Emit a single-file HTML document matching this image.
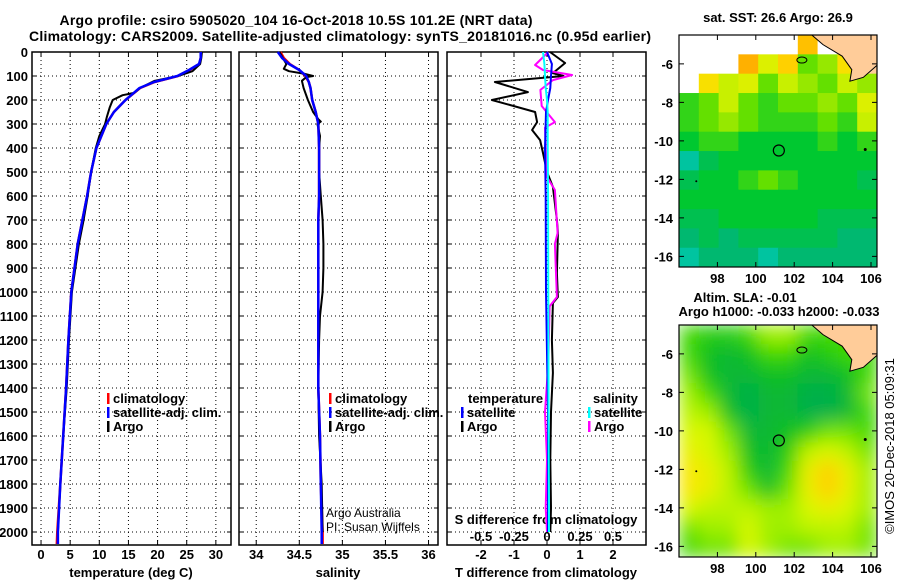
<!DOCTYPE html>
<html><head><meta charset="utf-8"><style>
body{margin:0;background:#fff}
svg{display:block;font-family:"Liberation Sans",sans-serif;font-weight:bold}
</style></head><body>
<svg id="s" width="900" height="580" viewBox="0 0 900 580" xmlns="http://www.w3.org/2000/svg">
<defs>
<clipPath id="c1"><rect x="679" y="35" width="198" height="232"/></clipPath>
<clipPath id="c2"><rect x="679" y="325" width="198" height="232"/></clipPath>
<filter id="bl" x="-5%" y="-5%" width="110%" height="110%"><feGaussianBlur stdDeviation="9"/></filter>
</defs>
<text x="296" y="25" font-size="14" text-anchor="middle" textLength="473">Argo profile: csiro 5905020_104 16-Oct-2018 10.5S 101.2E (NRT data)</text>
<text x="340" y="41" font-size="14" text-anchor="middle" textLength="622">Climatology: CARS2009. Satellite-adjusted climatology: synTS_20181016.nc (0.95d earlier)</text>
<g id="g"></g>
</svg>
<script>
const depths=[0,25,50,75,100,125,150,200,250,300,400,500,600,700,800,1000,1200,1400,1600,1800,2000,2050];
const tClim=[27.5,27.4,27.2,25.5,23.5,19.5,17,14.5,12.5,11.2,9.5,8.6,7.9,7.1,6.3,5.2,4.7,4.3,3.8,3.3,2.8,2.7];
const tSat=[27.4,27.4,27.1,25.4,23.4,19.4,16.9,14.5,12.5,11.2,9.5,8.6,7.9,7.1,6.3,5.2,4.7,4.3,3.8,3.3,2.9,2.9];
const argoDepths=[0,25,50,80,100,120,150,170,180,200,230,270,300,350,400,500,600,700,800,1000,1200,1400,1600,1800,2000,2050];
const tArgo=[27.6,27.5,27.3,26,23.5,19.5,17,16,14,12.3,11.8,11.3,11,10,9.4,8.6,8.0,7.3,6.5,5.3,4.8,4.4,3.8,3.3,2.9,2.9];
const sClim=[34.28,34.32,34.39,34.5,34.57,34.61,34.63,34.65,34.69,34.72,34.73,34.73,34.73,34.72,34.72,34.72,34.72,34.72,34.74,34.75,34.77,34.77];
const sSat=[34.25,34.3,34.38,34.5,34.58,34.61,34.63,34.65,34.69,34.72,34.73,34.73,34.73,34.72,34.72,34.72,34.72,34.72,34.74,34.75,34.76,34.76];
const sArgoDepths=[0,20,50,70,80,90,100,105,120,150,200,250,280,290,300,350,400,500,600,700,800,900,1000,1100,1200,1400,1600,1800,2000];
const sArgo=[34.27,34.3,34.35,34.32,34.38,34.55,34.66,34.58,34.53,34.55,34.6,34.66,34.72,34.75,34.71,34.74,34.73,34.73,34.75,34.77,34.78,34.78,34.77,34.74,34.73,34.72,34.73,34.76,34.77];
const dArgoDepths=[0,46,88,100,125,167,200,250,292,325,367,421,500,562,700,754,921,1021,1046,1200,1337,1500,1700,1900,2000];
const dTArgo=[0.09,0.55,0.18,0.5,-1.58,-0.58,-1.67,-0.36,-0.3,-0.45,-0.21,-0.12,0,0.18,0.3,0.33,0.3,0.33,0.18,0.15,0.18,0.12,0.1,0.12,0.1];
const dSArgoDepths=[0,54,75,96,117,158,225,292,315,521,575,754,800,1021,1060,1300,1500,1700,1900,2000];
const dSArgo=[0.01,-0.09,-0.03,0.19,0.045,-0.05,-0.04,0.06,-0.015,0,0.06,0.08,0.06,0.075,0.02,0.01,-0.015,0,-0.01,0];
const dSatDepths=[0,50,100,150,200,250,400,600,1000,1500,2000];
const dTSat=[0,0.15,0.12,0.1,0.03,-0.03,-0.06,-0.04,-0.03,0.03,0.03];
const dSSat=[-0.03,-0.02,-0.015,-0.01,0,0.005,0.005,0.008,0.01,0.012,0.015];
const sstGrid=[
[-1,-1,-1,-1,-1,-1,27.5,-1,99,99],
[-1,-1,-1,27.6,27.1,27.4,26.8,26.9,27.3,99],
[-1,27.3,27.0,27.1,26.8,27.0,26.9,26.8,27.0,26.9],
[26.7,26.8,27.0,26.8,26.7,26.8,26.8,26.9,26.8,27.1],
[26.7,26.8,26.9,26.8,26.7,26.7,26.7,26.8,26.7,27.0],
[26.6,26.7,26.7,26.6,26.6,26.6,26.6,26.7,26.6,26.7],
[26.3,26.5,26.6,26.6,26.6,26.6,26.6,26.6,26.6,26.6],
[26.5,26.6,26.6,26.7,26.8,26.7,26.6,26.6,26.6,26.5],
[26.6,26.6,26.6,26.6,26.6,26.6,26.6,26.6,26.6,26.6],
[26.5,26.5,26.6,26.6,26.6,26.6,26.6,26.5,26.5,26.5],
[26.4,26.5,26.4,26.5,26.5,26.5,26.5,26.5,26.4,26.4],
[26.3,26.4,26.4,26.4,26.3,26.4,26.4,26.4,26.4,26.4]];
const slaGrid=[
[0.0,-0.01,-0.01,0.0,0.02,0.02,0.0,0.0,0.0,0.0],
[0.0,-0.02,-0.03,-0.02,0.0,0.0,-0.02,-0.01,0.0,0.0],
[0.01,-0.02,-0.03,-0.03,-0.02,-0.02,-0.03,-0.03,-0.02,0.0],
[0.02,0.0,-0.03,-0.04,-0.03,-0.03,-0.04,-0.04,-0.03,0.01],
[0.03,0.02,-0.02,-0.04,-0.03,-0.03,-0.04,-0.04,-0.03,0.0],
[0.04,0.04,0.01,-0.03,-0.03,-0.02,-0.01,0.01,0.01,0.0],
[0.05,0.04,0.02,-0.02,-0.03,-0.01,0.03,0.04,0.03,0.01],
[0.06,0.05,0.03,-0.01,-0.03,0.0,0.05,0.07,0.05,0.02],
[0.06,0.05,0.03,0.01,-0.02,0.01,0.05,0.07,0.05,0.02],
[0.04,0.03,0.03,0.03,0.02,0.02,0.04,0.05,0.04,0.02],
[0.01,0.02,0.02,0.04,0.02,0.02,0.03,0.03,0.03,0.01],
[0.0,0.01,0.01,0.04,0.02,0.01,0.01,0.02,0.02,0.01]];
const tTicks=[0,5,10,15,20,25,30];
const sTicks=[34,34.5,35,35.5,36];
const sTickLabels=["34","34.5","35","35.5","36"];
const dTTicks=[-2,-1,0,1,2];
const dSTicks=[-0.5,-0.25,0,0.25,0.5];
const dSTickLabels=["-0.5","-0.25","0","0.25","0.5"];
const depthTicks=[0,100,200,300,400,500,600,700,800,900,1000,1100,1200,1300,1400,1500,1600,1700,1800,1900,2000];
const lonTicks=[98,100,102,104,106];
const latTicks=[-6,-8,-10,-12,-14,-16];

const NS='http://www.w3.org/2000/svg';
const G=document.getElementById('g');
function el(tag,attrs,parent){const e=document.createElementNS(NS,tag);for(const k in attrs)e.setAttribute(k,attrs[k]);(parent||G).appendChild(e);return e;}
function txt(x,y,s,size,anchor,parent,weight){const e=el('text',{x:x,y:y,'font-size':size,'text-anchor':anchor||'start'},parent);if(weight)e.setAttribute('font-weight',weight);e.textContent=s;return e;}
const TOP=52,BOT=545;
const yD=d=>TOP+d*0.24;
const panels=[
 {x0:32,x1:231,lo:-1.55,hi:32.6,name:'temperature-panel'},
 {x0:239,x1:438,lo:33.8,hi:36.11,name:'salinity-panel'},
 {x0:447,x1:646,lo:-3.03,hi:3.0,name:'difference-panel'}];
function sx(p,v){return p.x0+(v-p.lo)/(p.hi-p.lo)*(p.x1-p.x0);}
const sS=v=>547+v*132;
function line(pts,color,w,name,parent){const e=el('polyline',{points:pts.map(p=>p[0].toFixed(1)+','+p[1].toFixed(1)).join(' '),fill:'none',stroke:color,'stroke-width':w,'stroke-linejoin':'round'},parent);

return e;}

panels.forEach((p,i)=>{
 const g=el('g',{});
 
 
 const vt=i==0?tTicks:i==1?sTicks:dTTicks;
 depthTicks.forEach(d=>{el('line',{x1:p.x0,x2:p.x1,y1:yD(d),y2:yD(d),stroke:'#000','stroke-width':1,'stroke-dasharray':'1,3'},g);
   el('line',{x1:p.x0,x2:p.x0+4,y1:yD(d),y2:yD(d),stroke:'#000'},g);el('line',{x1:p.x1-4,x2:p.x1,y1:yD(d),y2:yD(d),stroke:'#000'},g);});
 vt.forEach(v=>{const x=sx(p,v);el('line',{x1:x,x2:x,y1:TOP,y2:BOT,stroke:'#000','stroke-dasharray':'1,3'},g);
   el('line',{x1:x,x2:x,y1:BOT-5,y2:BOT,stroke:'#000'},g);el('line',{x1:x,x2:x,y1:TOP,y2:TOP+5,stroke:'#000'},g);});
 el('rect',{x:p.x0,y:TOP,width:p.x1-p.x0,height:BOT-TOP,fill:'none',stroke:'#000','stroke-width':1.5},g);
});
depthTicks.forEach(d=>{const t=txt(28,yD(d)+5,String(d),13,'end');
 
 });
tTicks.forEach(v=>txt(sx(panels[0],v),559,String(v),13,'middle'));
sTicks.forEach((v,i)=>txt(sx(panels[1],v),559,sTickLabels[i],13,'middle'));
dTTicks.forEach(v=>txt(sx(panels[2],v),559,String(v),13,'middle'));
dSTicks.forEach((v,i)=>txt(sS(v),541,dSTickLabels[i],13,'middle'));
const xt1=txt(131,577,'temperature (deg C)',13,'middle');
const xt2=txt(338,577,'salinity',13,'middle');
const xt3=txt(546,577,'T difference from climatology',13,'middle');
const xt4=txt(546,524,'S difference from climatology',13,'middle');

const P0=panels[0],P1=panels[1];
line(depths.map((d,i)=>[sx(P0,tClim[i]),yD(d)]),'#f00',2.5,'temp-climatology-line');
line(argoDepths.map((d,i)=>[sx(P0,tArgo[i]),yD(d)]),'#000',2,'temp-argo-line');
line(depths.map((d,i)=>[sx(P0,tSat[i]),yD(d)]),'#00f',2.5,'temp-satellite-line');
line(depths.map((d,i)=>[sx(P1,sClim[i]),yD(d)]),'#f00',2.5,'sal-climatology-line');
line(sArgoDepths.map((d,i)=>[sx(P1,sArgo[i]),yD(d)]),'#000',2,'sal-argo-line');
line(depths.map((d,i)=>[sx(P1,sSat[i]),yD(d)]),'#00f',2.5,'sal-satellite-line');
const P2=panels[2];
line(dArgoDepths.map((d,i)=>[sx(P2,dTArgo[i]),yD(d)]),'#000',2,'tdiff-argo-line');
line(dSArgoDepths.map((d,i)=>[sS(dSArgo[i]),yD(d)]),'#f0f',2,'sdiff-argo-line');
line(dSatDepths.map((d,i)=>[sx(P2,dTSat[i]),yD(d)]),'#00f',2,'tdiff-satellite-line');
line(dSatDepths.map((d,i)=>[sS(dSSat[i]),yD(d)]),'#0ff',2,'sdiff-satellite-line');

function legend(x,y,items,name){const g=el('g',{});
 items.forEach((it,i)=>{el('rect',{x:x,y:y+i*14-10,width:2.5,height:11,fill:it[0]},g);txt(x+6,y+i*14,it[1],13,'start',g);});}
legend(107,403,[['#f00','climatology'],['#00f','satellite-adj. clim.'],['#000','Argo']],'temperature-legend');
legend(329,403,[['#f00','climatology'],['#00f','satellite-adj. clim.'],['#000','Argo']],'salinity-legend');
txt(468,403,'temperature',13,'start');
legend(461,417,[['#00f','satellite'],['#000','Argo']],'tdiff-legend');
txt(593,403,'salinity',13,'start');
legend(588,417,[['#0ff','satellite'],['#f0f','Argo']],'sdiff-legend');
txt(326,517,'Argo Australia',12,'start',null,'normal');
txt(326,531,'PI: Susan Wijffels',12,'start',null,'normal');

const MX0=679,MX1=877;
const lx=l=>MX0+(l-96)*19.2;
function sstColor(v){if(v<0)return '#fff';if(v>50)return '#ffcc99';
 const st=[[26.2,[0,208,208]],[26.4,[0,184,112]],[26.6,[0,200,48]],[26.8,[100,224,0]],[27.0,[200,240,0]],[27.2,[240,240,0]],[27.4,[255,208,0]],[27.8,[255,144,0]]];return interp(st,v);}
function slaColor(v){const st=[[-0.04,[0,176,72]],[-0.02,[16,192,32]],[0,[64,216,0]],[0.02,[160,240,0]],[0.04,[216,248,0]],[0.06,[248,232,0]],[0.07,[255,208,0]]];return interp(st,v);}
function interp(st,v){if(v<=st[0][0])return rgb(st[0][1]);for(let i=1;i<st.length;i++){if(v<=st[i][0]){const f=(v-st[i-1][0])/(st[i][0]-st[i-1][0]);return rgb(st[i-1][1].map((c,k)=>c+f*(st[i][1][k]-c)));}}return rgb(st[st.length-1][1]);}
function rgb(a){return 'rgb('+a.map(Math.round).join(',')+')';}
function map(y0,grid,colorFn,clip,blur,name){
 const ly=l=>y0+(-4.5-l)*19.25;
 const g=el('g',{'clip-path':'url(#'+clip+')'});
 el('rect',{x:MX0,y:y0,width:MX1-MX0,height:232,fill:'#fff'},g);
 const cg=el('g',blur?{filter:'url(#bl)'}:{},g);
 const cw=(MX1-MX0)/10+0.5;
 grid.forEach((row,r)=>row.forEach((v,c)=>{const e=el('rect',{x:MX0+c*(MX1-MX0)/10,y:y0+r*19.34,width:cw,height:19.9,fill:colorFn(v)},cg);
   
   }));
 const land=[[102.8,-4.4],[103.5,-5.0],[104.5,-5.6],[105.0,-6.3],[104.9,-6.9],[105.6,-6.7],[106.4,-6.0],[106.4,-4.4]];
 el('polygon',{points:land.map(p=>lx(p[0])+','+ly(p[1])).join(' '),fill:'#ffcc99',stroke:'#000','stroke-width':1},g);
 el('ellipse',{cx:lx(102.4),cy:ly(-5.8),rx:5,ry:3,fill:'none',stroke:'#000'},g);
 el('circle',{cx:lx(105.7),cy:ly(-10.45),r:1.5,fill:'#000'},g);
 el('circle',{cx:lx(96.9),cy:ly(-12.1),r:1,fill:'#000'},g);
 const ar=el('circle',{cx:lx(101.2),cy:ly(-10.5),r:5.5,fill:'none',stroke:'#000','stroke-width':1.2});
 ar.setAttribute('clip-path','url(#'+clip+')');
 
 
 el('rect',{x:MX0,y:y0,width:MX1-MX0,height:232,fill:'none',stroke:'#000','stroke-width':1.2});
 lonTicks.forEach(l=>{el('line',{x1:lx(l),x2:lx(l),y1:y0+232,y2:y0+227,stroke:'#000'});el('line',{x1:lx(l),x2:lx(l),y1:y0,y2:y0+5,stroke:'#000'});txt(lx(l),y0+248,String(l),13,'middle');});
 latTicks.forEach(l=>{el('line',{x1:MX0,x2:MX0+5,y1:ly(l),y2:ly(l),stroke:'#000'});el('line',{x1:MX1,x2:MX1-5,y1:ly(l),y2:ly(l),stroke:'#000'});txt(673,ly(l)+5,String(l),13,'end');});
}
map(35,sstGrid,sstColor,'c1',false,'sst-map');
map(325,slaGrid,slaColor,'c2',true,'sla-map');
const t1=txt(778,22,'sat. SST: 26.6 Argo: 26.9',13,'middle');
txt(745,302,'Altim. SLA: -0.01',13,'middle');
txt(779,316,'Argo h1000: -0.033 h2000: -0.033',13,'middle');
const cp=txt(0,0,'©IMOS 20-Dec-2018 05:09:31',13,'middle',null,'normal');
cp.setAttribute('transform','translate(894,446) rotate(-90)');


</script>
</body></html>
